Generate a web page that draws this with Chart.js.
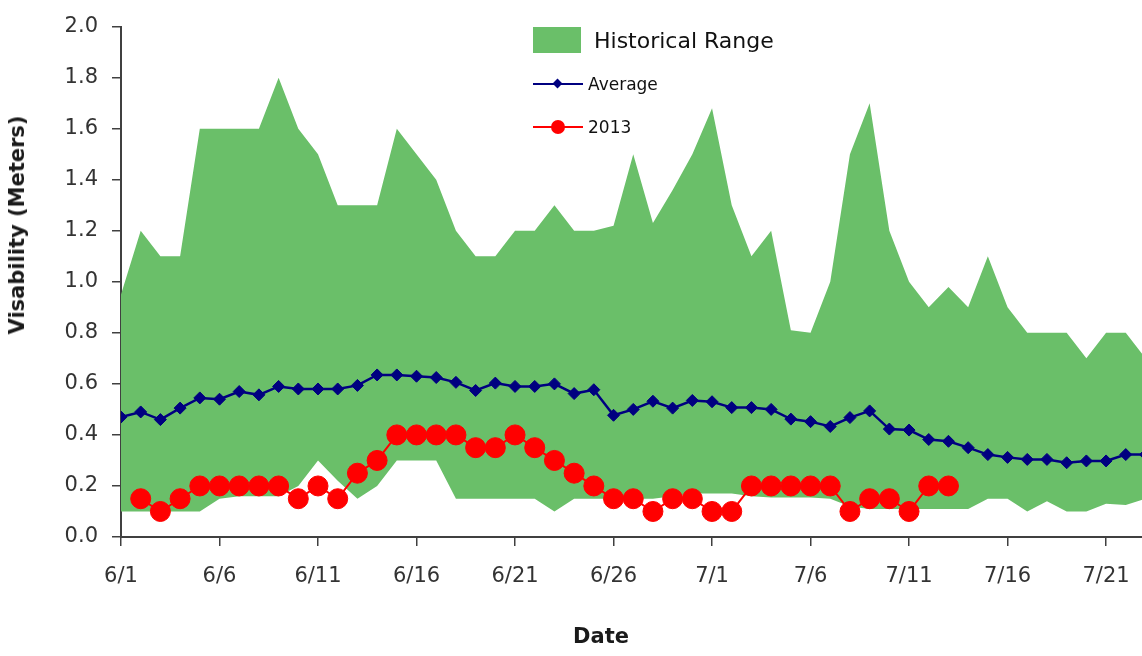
<!DOCTYPE html>
<html>
<head>
<meta charset="utf-8">
<title>Visability</title>
<script src="https://cdn.jsdelivr.net/npm/chart.js@4.4.0/dist/chart.umd.min.js"></script>
<style>
    body { margin: 0; background: #fff; }
    #wrap { position: relative; width: 1142px; height: 656px; overflow: hidden; font-family: 'DejaVu Sans', sans-serif; }
    #chart { position: absolute; left: 0; top: 0; }
    .title { position: absolute; font-weight: bold; font-size: 21px; color: #1a1a1a; white-space: nowrap; }
    #ytitle { left: 17px; top: 225px; transform: translate(-50%, -50%) rotate(-90deg); }
    #xtitle { left: 601px; top: 636px; transform: translate(-50%, -50%); }
    .leg { position: absolute; white-space: nowrap; color: #111; }
    .leg .txt { position: absolute; transform: translateY(-50%); }
    .leg .ln { position: absolute; height: 0; width: 50px; }
</style>
</head>
<body>
<div id="wrap">
    <!-- o canvas passa um pouco da borda: o gráfico original aparece cortado à direita -->
    <canvas id="chart" width="1150" height="656"></canvas>
    <div class="title" id="ytitle">Visability (Meters)</div>
    <div class="title" id="xtitle">Date</div>

    <!-- legenda -->
    <div class="leg" style="left:533px; top:27px;">
        <div style="position:absolute; left:0; top:0; width:48px; height:26px; background:#6abf69;"></div>
        <div class="txt" style="left:61px; top:13px; font-size:22px;">Historical Range</div>
    </div>
    <div class="leg" style="left:533px; top:84px;">
        <div class="ln" style="left:0; top:-1px; border-top:2px solid #000080;"></div>
        <div style="position:absolute; left:21px; top:-4px; width:7px; height:7px; background:#000080; transform:rotate(45deg);"></div>
        <div class="txt" style="left:55px; top:0; font-size:17px;">Average</div>
    </div>
    <div class="leg" style="left:533px; top:127px;">
        <div class="ln" style="left:0; top:-1px; border-top:2px solid #ff0000;"></div>
        <div style="position:absolute; left:18px; top:-7px; width:14px; height:14px; border-radius:50%; background:#ff0000;"></div>
        <div class="txt" style="left:55px; top:0; font-size:17px;">2013</div>
    </div>
</div>

<script>
// datas (6/1 ... 7/23)
const dates = [
    '6/1','6/2','6/3','6/4','6/5','6/6','6/7','6/8','6/9','6/10',
    '6/11','6/12','6/13','6/14','6/15','6/16','6/17','6/18','6/19','6/20',
    '6/21','6/22','6/23','6/24','6/25','6/26','6/27','6/28','6/29','6/30',
    '7/1','7/2','7/3','7/4','7/5','7/6','7/7','7/8','7/9','7/10',
    '7/11','7/12','7/13','7/14','7/15','7/16','7/17','7/18','7/19','7/20',
    '7/21','7/22','7/23'
];

// faixa histórica - máximo e mínimo
const histMax = [
    0.95, 1.20, 1.10, 1.10, 1.60, 1.60, 1.60, 1.60, 1.80, 1.60,
    1.50, 1.30, 1.30, 1.30, 1.60, 1.50, 1.40, 1.20, 1.10, 1.10,
    1.20, 1.20, 1.30, 1.20, 1.20, 1.22, 1.50, 1.23, 1.36, 1.50,
    1.68, 1.30, 1.10, 1.20, 0.81, 0.80, 1.00, 1.50, 1.70, 1.20,
    1.00, 0.90, 0.98, 0.90, 1.10, 0.90, 0.80, 0.80, 0.80, 0.70,
    0.80, 0.80, 0.70
];
const histMin = [
    0.10, 0.10, 0.10, 0.10, 0.10, 0.15, 0.16, 0.16, 0.16, 0.20,
    0.30, 0.22, 0.15, 0.20, 0.30, 0.30, 0.30, 0.15, 0.15, 0.15,
    0.15, 0.15, 0.10, 0.15, 0.15, 0.15, 0.15, 0.15, 0.16, 0.17,
    0.17, 0.17, 0.16, 0.155, 0.155, 0.155, 0.15, 0.12, 0.11, 0.11,
    0.11, 0.11, 0.11, 0.11, 0.15, 0.15, 0.10, 0.14, 0.10, 0.10,
    0.13, 0.125, 0.15
];

// média
const average = [
    0.47, 0.49, 0.46, 0.505, 0.545, 0.54, 0.57, 0.557, 0.59, 0.58,
    0.58, 0.58, 0.594, 0.635, 0.635, 0.63, 0.625, 0.606, 0.574, 0.603,
    0.59, 0.59, 0.60, 0.562, 0.577, 0.477, 0.50, 0.532, 0.505, 0.535,
    0.53, 0.507, 0.507, 0.50, 0.462, 0.452, 0.433, 0.468, 0.494, 0.423,
    0.419, 0.382, 0.375, 0.35, 0.323, 0.312, 0.304, 0.304, 0.291, 0.298,
    0.298, 0.323, 0.323
];

// 2013 (começa em 6/2)
const y2013 = [
    null, 0.15, 0.10, 0.15, 0.20, 0.20, 0.20, 0.20, 0.20, 0.15,
    0.20, 0.15, 0.25, 0.30, 0.40, 0.40, 0.40, 0.40, 0.35, 0.35,
    0.40, 0.35, 0.30, 0.25, 0.20, 0.15, 0.15, 0.10, 0.15, 0.15,
    0.10, 0.10, 0.20, 0.20, 0.20, 0.20, 0.20, 0.10, 0.15, 0.15,
    0.10, 0.20, 0.20
];

const tickStep = 5;
const yTickStep = 0.2;

const toPoints = arr => dates.map((d, i) => ({ x: i, y: arr[i] === undefined ? null : arr[i] }));

const axisColor = '#404040';
const tickFont = { family: 'DejaVu Sans', size: 21 };

new Chart(document.getElementById('chart'), {
    type: 'line',
    data: {
        datasets: [
            {
                label: '2013',
                data: toPoints(y2013),
                borderColor: '#ff0000',
                backgroundColor: '#ff0000',
                borderWidth: 2,
                pointRadius: 10,
                pointBorderWidth: 1,
                pointStyle: 'circle',
                fill: false,
                tension: 0
            },
            {
                label: 'Average',
                data: toPoints(average),
                borderColor: '#000080',
                backgroundColor: '#000080',
                borderWidth: 2.5,
                pointRadius: 6,
                pointBorderWidth: 1,
                pointStyle: 'rectRot',
                fill: false,
                tension: 0
            },
            {
                label: 'Historical Range',
                data: toPoints(histMax),
                borderWidth: 0,
                borderColor: 'rgba(0,0,0,0)',
                backgroundColor: '#6abf69',
                pointRadius: 0,
                fill: '+1',
                tension: 0
            },
            {
                label: 'min',
                data: toPoints(histMin),
                borderWidth: 0,
                borderColor: 'rgba(0,0,0,0)',
                pointRadius: 0,
                fill: false,
                tension: 0
            }
        ]
    },
    options: {
        responsive: false,
        animation: false,
        layout: { autoPadding: false, padding: { top: 17, right: 0, left: 0, bottom: 0 } },
        plugins: {
            legend: { display: false },
            tooltip: { enabled: false }
        },
        scales: {
            x: {
                type: 'linear',
                min: 0,
                max: 52.23,
                border: { color: axisColor, width: 2 },
                grid: { drawOnChartArea: false, drawTicks: true, tickLength: 9, color: axisColor, lineWidth: 1.5 },
                ticks: {
                    stepSize: tickStep,
                    includeBounds: false,
                    autoSkip: false,
                    maxRotation: 0,
                    padding: 18,
                    color: '#333',
                    font: tickFont,
                    callback: v => dates[Math.round(v)]
                },
                // só os dias 1, 6, 11...
                afterBuildTicks: s => {
                    s.ticks = s.ticks.filter(t => t.value % tickStep === 0);
                },
                afterFit: s => { s.height = 119; }
            },
            y: {
                min: 0,
                max: 2,
                border: { color: axisColor, width: 2 },
                grid: { drawOnChartArea: false, drawTicks: true, tickLength: 9, color: axisColor, lineWidth: 1.5 },
                ticks: {
                    stepSize: yTickStep,
                    padding: 14,
                    color: '#333',
                    font: tickFont,
                    callback: v => v.toFixed(1)
                },
                afterFit: s => { s.width = 121; }
            }
        }
    }
});
</script>
</body>
</html>
